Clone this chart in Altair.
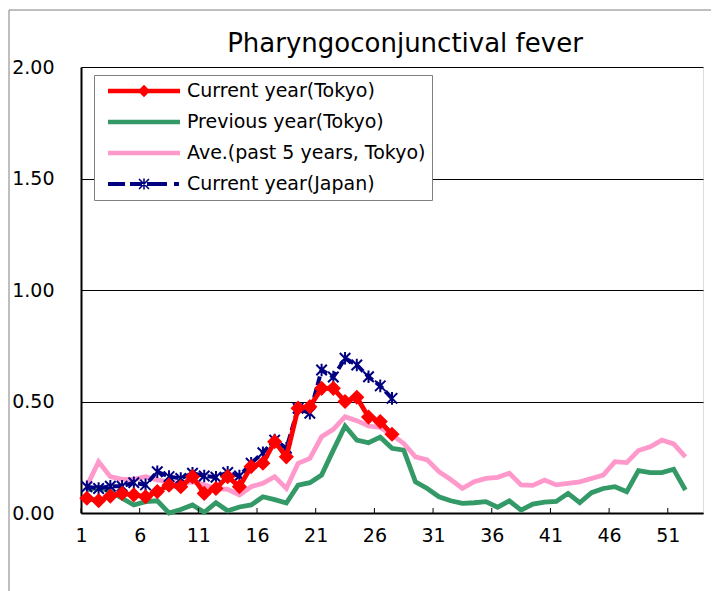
import altair as alt
import pandas as pd

# ---------------- data ----------------
series_names = [
    "Current year(Tokyo)",
    "Previous year(Tokyo)",
    "Ave.(past 5 years, Tokyo)",
    "Current year(Japan)",
]
series_colors = ["#FF0000", "#339966", "#FF99CC", "#000080"]

weeks_full = list(range(1, 53))
weeks_current = list(range(1, 28))

tokyo_current = [0.066, 0.055, 0.076, 0.088, 0.081, 0.073, 0.096, 0.125, 0.118, 0.163,
                 0.088, 0.110, 0.163, 0.118, 0.208, 0.223, 0.320, 0.252, 0.470, 0.477,
                 0.559, 0.559, 0.500, 0.519, 0.430, 0.410, 0.353]

japan_current = [0.118, 0.110, 0.120, 0.120, 0.136, 0.126, 0.185, 0.163, 0.155, 0.178,
                 0.166, 0.160, 0.182, 0.166, 0.223, 0.270, 0.327, 0.290, 0.470, 0.447,
                 0.641, 0.610, 0.694, 0.664, 0.611, 0.570, 0.514]

previous_year = [0.103, 0.115, 0.096, 0.066, 0.036, 0.051, 0.055, 0.000, 0.016, 0.036,
                 0.003, 0.046, 0.010, 0.027, 0.036, 0.073, 0.060, 0.045, 0.125, 0.136,
                 0.170, 0.282, 0.390, 0.327, 0.315, 0.340, 0.290, 0.282, 0.140, 0.110,
                 0.073, 0.055, 0.043, 0.046, 0.051, 0.026, 0.054, 0.013, 0.040, 0.049,
                 0.052, 0.088, 0.046, 0.091, 0.110, 0.118, 0.096, 0.190, 0.181, 0.181,
                 0.196, 0.103]

average_5y = [0.121, 0.230, 0.163, 0.151, 0.151, 0.163, 0.148, 0.140, 0.133, 0.140,
              0.126, 0.110, 0.106, 0.081, 0.118, 0.133, 0.163, 0.110, 0.223, 0.245,
              0.342, 0.375, 0.432, 0.414, 0.390, 0.384, 0.350, 0.312, 0.252, 0.238,
              0.185, 0.150, 0.110, 0.140, 0.155, 0.160, 0.178, 0.126, 0.124, 0.148,
              0.126, 0.133, 0.140, 0.155, 0.170, 0.230, 0.226, 0.280, 0.297, 0.327,
              0.310, 0.252]

y_ticks = [0, 0.5, 1.0, 1.5, 2.0]
x_tick_labels = [1, 6, 11, 16, 21, 26, 31, 36, 41, 46, 51]

title_text = "Pharyngoconjunctival fever"

# ---------------- tables ----------------
df_tc = pd.DataFrame({"week": weeks_current, "value": tokyo_current, "series": series_names[0]})
df_jp = pd.DataFrame({"week": weeks_current, "value": japan_current, "series": series_names[3]})
df_prev = pd.DataFrame({"week": weeks_full, "value": previous_year, "series": series_names[1]})
df_avg = pd.DataFrame({"week": weeks_full, "value": average_5y, "series": series_names[2]})
df_all = pd.concat([df_tc, df_prev, df_avg, df_jp], ignore_index=True)
tick_vals = [v - 0.5 for v in x_tick_labels]
df_ticks = pd.DataFrame({"pos": tick_vals})

FONT = "DejaVu Sans"
W, H = 622, 446

# legend symbol paths (unit = 10px with symbolSize 400)
rect = "M-3.6,-0.22L3.6,-0.22L3.6,0.22L-3.6,0.22Z"
diamond = "M0,-0.62L0.62,0L0,0.62L-0.62,0Z"
dash_parts = ("M-3.6,-0.2L-1.9,-0.2L-1.9,0.2L-3.6,0.2Z"
              "M-1.4,-0.2L-0.2,-0.2L-0.2,0.2L-1.4,0.2Z"
              "M0.3,-0.2L2.3,-0.2L2.3,0.2L0.3,0.2Z"
              "M3.0,-0.2L3.5,-0.2L3.5,0.2L3.0,0.2Z")
star = ("M-0.443,-0.557L0.557,0.443L0.443,0.557L-0.557,-0.443Z"
        "M-0.443,0.557L-0.557,0.443L0.443,-0.557L0.557,-0.443Z"
        "M-0.08,-0.55L0.08,-0.55L0.08,0.55L-0.08,0.55Z")
legend_shapes = [rect + diamond, rect, rect, dash_parts + star]

x_scale = alt.Scale(domain=[0.5, 53.5], nice=False, zero=False)
y_scale = alt.Scale(domain=[0, 2], nice=False)
color_scale = alt.Scale(domain=series_names, range=series_colors)

x_axis = alt.Axis(values=tick_vals, labelExpr="datum.value + 0.5", ticks=False,
                  grid=False, domain=True, domainColor="black", domainWidth=2,
                  labelFontSize=19, labelFont=FONT, labelColor="black",
                  labelPadding=13, title=None, labelFlush=False)
y_axis = alt.Axis(values=y_ticks, format=".2f", ticks=False, grid=True, gridColor="black",
                  gridWidth=1, domain=True, domainColor="black", domainWidth=2,
                  labelFontSize=19, labelFont=FONT, labelColor="black", labelPadding=27,
                  title=None)

X = alt.X("week:Q", scale=x_scale, axis=x_axis)
Y = alt.Y("value:Q", scale=y_scale, axis=y_axis)

# outer chart frame (decorative)
frame = alt.Chart(df_ticks).mark_rect(fill=None, stroke="#7f7f7f", strokeWidth=1,
                                      clip=False).encode(
    x=alt.value(-72), x2=alt.value(W + 200), y=alt.value(-57), y2=alt.value(H + 300)
).transform_filter("datum.pos == 0.5")

prev_line = alt.Chart(df_prev).mark_line(strokeWidth=4.8, color=series_colors[1]).encode(x=X, y=Y)
avg_line = alt.Chart(df_avg).mark_line(strokeWidth=4.8, color=series_colors[2]).encode(x=X, y=Y)
jp_line = alt.Chart(df_jp).mark_line(strokeWidth=4, color=series_colors[3],
                                      strokeDash=[9, 4]).encode(x=X, y=Y)
jp_points = alt.Chart(df_jp).mark_point(
    shape="M-1,-1L1,1M-1,1L1,-1M0,-1.2L0,1.2", filled=False, size=110,
    strokeWidth=2, color=series_colors[3], opacity=1,
).encode(x=X, y=Y)
tc_line = alt.Chart(df_tc).mark_line(strokeWidth=4.8, color=series_colors[0]).encode(x=X, y=Y)
tc_points = alt.Chart(df_tc).mark_point(
    shape="diamond", filled=True, size=230, color=series_colors[0], opacity=1,
).encode(x=X, y=Y)

# inward tick marks on the x axis
x_ticks = alt.Chart(df_ticks).mark_rule(color="black", strokeWidth=1).encode(
    x=alt.X("pos:Q", scale=x_scale), y=alt.value(H), y2=alt.value(H - 5)
)

legend_layer = alt.Chart(df_all).mark_point(filled=True, size=400, opacity=1).encode(
    x=X, y=Y,
    color=alt.Color("series:N", scale=color_scale, title=None,
                    legend=alt.Legend(orient="none", legendX=13, legendY=8,
                                      symbolSize=400, symbolStrokeWidth=0,
                                      symbolOffset=34, labelOffset=33,
                                      labelFontSize=19, labelFont=FONT,
                                      labelColor="black", labelLimit=400,
                                      padding=6, rowPadding=11,
                                      fillColor="white", strokeColor="#808080",
                                      symbolOpacity=1)),
    shape=alt.Shape("series:N", scale=alt.Scale(domain=series_names, range=legend_shapes),
                    title=None),
).transform_filter("false")

chart = alt.layer(
    frame, prev_line, avg_line, jp_line, jp_points, tc_line, tc_points, x_ticks, legend_layer
).properties(
    width=W, height=H,
    title=alt.TitleParams(title_text, fontSize=26, font=FONT, fontWeight="normal",
                          color="black", anchor="middle", dx=13, offset=-47.5),
    autosize=alt.AutoSizeParams(type="none"),
    padding={"left": 73, "top": 59, "right": 8, "bottom": 80},
).configure_view(stroke="#808080", strokeWidth=2).configure(background="white")

chart.save("out.html", embed_options={"renderer": "svg", "actions": False})
